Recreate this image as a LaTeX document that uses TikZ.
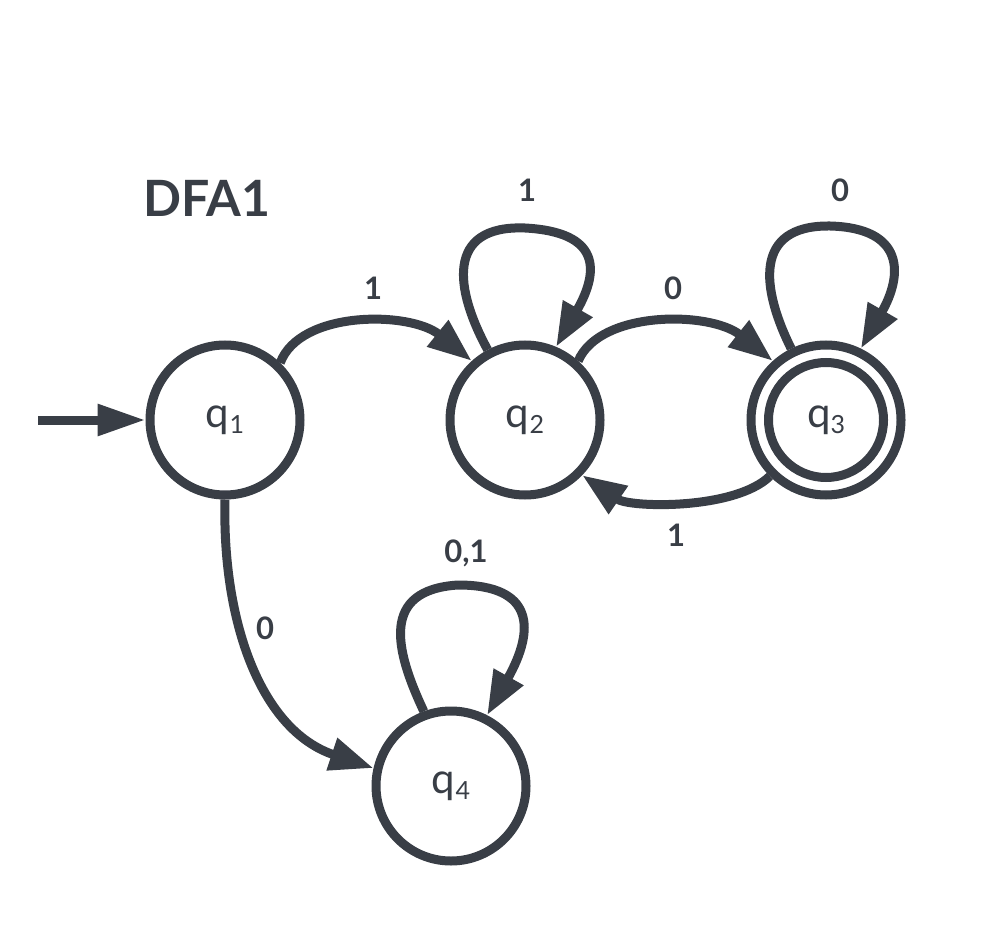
\documentclass[tikz,border=0pt]{standalone}
\usepackage{fontspec}
\setmainfont{Lato}
\usetikzlibrary{arrows.meta}
\definecolor{ink}{HTML}{393E46}
% subscript index of a state name
\newcommand\stateidx[1]{\raisebox{-6pt}{\fontsize{25}{25}\selectfont #1}}
\begin{document}
\begin{tikzpicture}[x=1pt,y=-1pt,
  state/.style={circle,draw=ink,line width=9pt,minimum size=150pt,inner sep=0pt,
    text=ink,font=\fontsize{42}{42}\selectfont},
  ring/.style={draw=ink,line width=9pt},
  edge/.style={draw=ink,line width=9pt,-{Triangle[length=44pt,width=32pt]}},
  lbl/.style={text=ink,font=\bfseries\fontsize{31}{31}\selectfont},
  title/.style={text=ink,font=\bfseries\fontsize{50}{50}\selectfont}]
\useasboundingbox (0,0) rectangle (998,941);

% title
\node[title] (ttl) at (207,198) {DFA1};

% states
\node[state] (q1) at (225,420) {q\stateidx{1}};
\node[state] (q2) at (525,420) {q\stateidx{2}};
\node[state] (q3) at (826,420) {q\stateidx{3}};
\node[state] (q4) at (451,786) {q\stateidx{4}};
\draw[ring] (q3.center) circle[radius=57.5];

% start arrow
\coordinate (start) at (38,420);
\draw[edge,-{Triangle[length=48pt,width=30pt]}] (start) -- (q1.west);

% transitions
\draw[edge] (q1.46) .. controls (300,310) and (410,311) .. (q2.132);
\draw[edge] (q2.48) .. controls (600,310) and (710,311) .. (q3.132);
\draw[edge] (q3.-135) .. controls (735,510) and (630,508) .. (q2.-44);
\draw[edge] (q1.south) .. controls (222,620) and (260,730) .. (q4.167);

% self loops
\draw[edge] (q2.118) .. controls (455,290) and (445,225) .. (525,228)
  .. controls (600,232) and (600,270) .. (q2.67);
\draw[edge] (q3.116) .. controls (762,290) and (752,225) .. (830,226)
  .. controls (905,228) and (903,275) .. (q3.64);
\draw[edge] (q4.110) .. controls (395,650) and (380,590) .. (458,585)
  .. controls (535,585) and (535,630) .. (q4.63);

% transition labels
\node[lbl] (l12) at (373,288) {1};
\node[lbl] (l22) at (527,190) {1};
\node[lbl] (l23) at (673,288) {0};
\node[lbl] (l33) at (840,190) {0};
\node[lbl] (l32) at (676,535) {1};
\node[lbl] (l44) at (466,553) {0,1};
\node[lbl] (l14) at (265,628) {0};
\end{tikzpicture}
\end{document}
